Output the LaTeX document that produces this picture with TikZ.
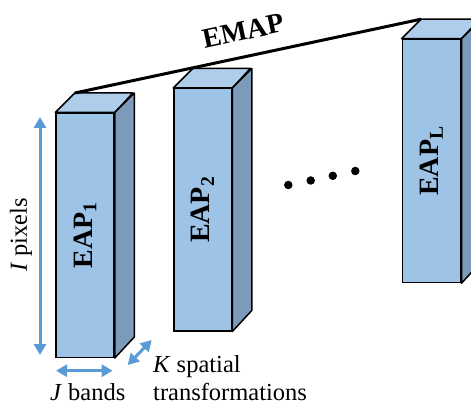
\documentclass[tikz,border=0pt]{standalone}
\usepackage{fontspec}
\setmainfont{Liberation Serif}
\usetikzlibrary{arrows.meta}
\definecolor{frontc}{HTML}{9DC3E6}
\definecolor{topc}{HTML}{AECDEB}
\definecolor{sidec}{HTML}{7C9BBB}
\definecolor{arrowc}{HTML}{5B9BD5}
\tikzset{
  front/.style={draw=black, fill=frontc, line width=1.5pt, inner sep=0pt, anchor=north west},
  topface/.style={draw=black, fill=topc, line width=1.5pt, line join=round},
  sideface/.style={draw=black, fill=sidec, line width=1.5pt, line join=round},
  eaplabel/.style={rotate=90, font=\fontsize{28}{30}\selectfont\bfseries, inner sep=0pt},
  dimarrow/.style={draw=arrowc, line width=3pt, {Triangle[width=12pt,length=11pt]}-{Triangle[width=12pt,length=11pt]}},
  dimlabel/.style={font=\fontsize{24.5}{27}\selectfont, inner sep=0pt},
  dot/.style={circle, fill=black, minimum size=8.5pt, inner sep=0pt},
}
\begin{document}
\begin{tikzpicture}[x=1pt, y=-1pt]
\useasboundingbox (0,0) rectangle (471,406);
\clip (0,0) rectangle (471,406);
% box 1
\node[front, minimum width=58pt, minimum height=244pt] (eap1) at (55.3,112.5) {};
\path (eap1.north west) ++(19.5,-19.5) coordinate (b1tl);
\draw[topface] (eap1.north west) -- (b1tl) -- ++(58,0) -- (eap1.north east) -- cycle;
\draw[sideface] (eap1.north east) -- ++(19.5,-19.5) -- ++(0,244) -- (eap1.south east) -- cycle;
\node[eaplabel] (t1) at (eap1.center) {EAP\textsubscript{1}};
% box 2
\node[front, minimum width=57.5pt, minimum height=242pt] (eap2) at (173.3,88) {};
\path (eap2.north west) ++(19.5,-19.5) coordinate (b2tl);
\draw[topface] (eap2.north west) -- (b2tl) -- ++(57.5,0) -- (eap2.north east) -- cycle;
\draw[sideface] (eap2.north east) -- ++(19.5,-19.5) -- ++(0,242) -- (eap2.south east) -- cycle;
\node[eaplabel] (t2) at (eap2.center) {EAP\textsubscript{2}};
% box L
\node[front, minimum width=58.5pt, minimum height=243pt] (eapL) at (401.5,38.7) {};
\path (eapL.north west) ++(19.5,-19.5) coordinate (bLtl);
\draw[topface] (eapL.north west) -- (bLtl) -- ++(58.5,0) -- (eapL.north east) -- cycle;
\draw[sideface] (eapL.north east) -- ++(19.5,-19.5) -- ++(0,243) -- (eapL.south east) -- cycle;
\node[eaplabel] (tL) at (eapL.center) {EAP\textsubscript{L}};
% EMAP line
\draw[line width=3pt] (b1tl) -- (bLtl);
\node[rotate=12.1, font=\fontsize{28}{30}\selectfont\bfseries, inner sep=0pt] (emap) at (243,31) {EMAP};
% dots
\node[dot] (d1) at (288.3,185) {};
\node[dot] (d2) at (310.7,180.5) {};
\node[dot] (d3) at (332.8,175.8) {};
\node[dot] (d4) at (355.3,171) {};
% dimension arrows
\coordinate (ia) at (40,117);
\coordinate (ib) at (40,355);
\draw[dimarrow] (ia) -- (ib);
\node[dimlabel, rotate=90] (ilab) at (21,235) {\textit{I} pixels};
\coordinate (ja) at (56,370.7);
\coordinate (jb) at (112.7,370.7);
\draw[dimarrow] (ja) -- (jb);
\node[dimlabel, anchor=base west] (jlab) at (50,400) {\textit{J} bands};
\coordinate (ka) at (127.7,365);
\coordinate (kb) at (151.7,340);
\draw[dimarrow] (ka) -- (kb);
\node[dimlabel, anchor=base west] (klab1) at (153,372) {\textit{K} spatial};
\node[dimlabel, anchor=base west] (klab2) at (153,400) {transformations};
\end{tikzpicture}
\end{document}
